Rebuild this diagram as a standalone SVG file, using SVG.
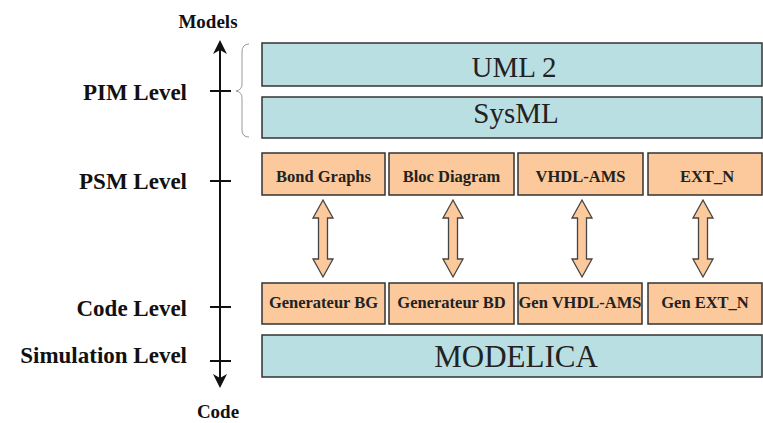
<svg xmlns="http://www.w3.org/2000/svg" width="763" height="423" viewBox="0 0 763 423">
<defs>
<style>
text{font-family:'Liberation Serif','DejaVu Serif',serif}
.lvl{font-weight:bold;font-size:23px;fill:#111;text-anchor:end}
.end{font-weight:bold;font-size:19px;fill:#111;text-anchor:middle}
.blue{fill:#badfe3;stroke:#333;stroke-width:1.5}
.org{fill:#fcc99c;stroke:#333;stroke-width:1.5}
.big{font-size:29px;font-weight:normal;fill:#222;text-anchor:middle}
.sm{font-weight:bold;font-size:16.5px;fill:#222;text-anchor:middle}
.axis{stroke:#111;stroke-width:2;fill:none}
.dbl{fill:#fcc99c;stroke:#444;stroke-width:1.3}
</style>
<path id="darr" d="M0,0 L10,18 L4.5,18 L4.5,59 L10,59 L0,77 L-10,59 L-4.5,59 L-4.5,18 L-10,18 Z"/>
</defs>

<g id="axis">
<line class="axis" x1="220" y1="46" x2="220" y2="382"/>
<path d="M220,40 L213,54 L220,50 L227,54 Z" fill="#111"/>
<path d="M220,388 L213,374 L220,378 L227,374 Z" fill="#111"/>
<line class="axis" x1="210" y1="91" x2="231" y2="91"/>
<line class="axis" x1="210" y1="181" x2="231" y2="181"/>
<line class="axis" x1="210" y1="307" x2="231" y2="307"/>
<line class="axis" x1="210" y1="361" x2="231" y2="361"/>
<text class="end" x="208" y="28">Models</text>
<text class="end" x="218" y="418">Code</text>
<text class="lvl" x="187" y="100">PIM Level</text>
<text class="lvl" x="187" y="189">PSM Level</text>
<text class="lvl" x="187" y="316">Code Level</text>
<text class="lvl" x="187" y="363">Simulation Level</text>
<path d="M249,44 Q242,44 242,52 L242,84 Q242,90 236,91 Q242,92 242,98 L242,130 Q242,137 249,137" fill="none" stroke="#999" stroke-width="1"/>
</g>

<g id="uml2"><rect class="blue" x="262" y="43" width="500" height="43"/><text class="big" x="514" y="77" font-family="Liberation Serif, serif">UML 2</text></g>
<g id="sysml"><rect class="blue" x="262" y="97" width="500" height="41"/><text class="big" x="516" y="123" font-family="Liberation Serif, serif">SysML</text></g>

<g id="bondgraphs"><rect class="org" x="262" y="153" width="123" height="42"/><text class="sm" x="323.5" y="182">Bond Graphs</text></g>
<g id="blocdiagram"><rect class="org" x="389" y="153" width="125" height="42"/><text class="sm" x="451.5" y="182">Bloc Diagram</text></g>
<g id="vhdlams"><rect class="org" x="518" y="153" width="125" height="42"/><text class="sm" x="580.5" y="182">VHDL-AMS</text></g>
<g id="extn"><rect class="org" x="648" y="153" width="114" height="42"/><text class="sm" x="707" y="182">EXT_N</text></g>

<g id="connectors">
<use href="#darr" class="dbl" x="323" y="200"/>
<use href="#darr" class="dbl" x="453" y="200"/>
<use href="#darr" class="dbl" x="582" y="200"/>
<use href="#darr" class="dbl" x="703" y="200"/>
</g>

<g id="genbg"><rect class="org" x="262" y="283" width="123" height="41"/><text class="sm" x="323.5" y="308">Generateur BG</text></g>
<g id="genbd"><rect class="org" x="389" y="283" width="125" height="41"/><text class="sm" x="451.5" y="308">Generateur BD</text></g>
<g id="genvhdl"><rect class="org" x="518" y="283" width="124" height="41"/><text class="sm" x="580" y="308">Gen VHDL-AMS</text></g>
<g id="genext"><rect class="org" x="648" y="283" width="114" height="41"/><text class="sm" x="705" y="308">Gen EXT_N</text></g>

<g id="modelica"><rect class="blue" x="262" y="335" width="500" height="42"/><text class="big" x="516" y="367" style="font-size:31px">MODELICA</text></g>
</svg>
